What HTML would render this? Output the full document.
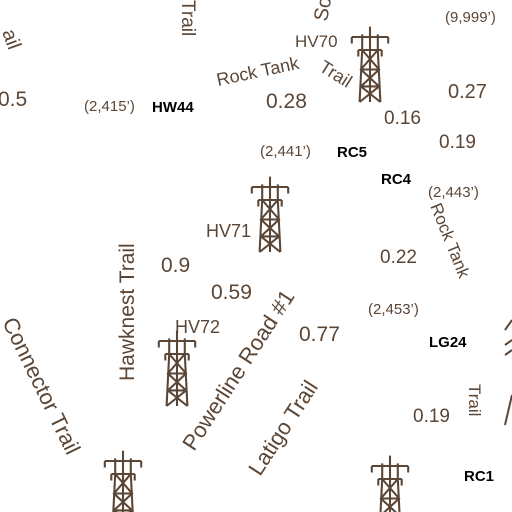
<!DOCTYPE html>
<html><head><meta charset="utf-8"><style>
html,body{margin:0;padding:0;background:#fff}
svg{display:block}
text{font-family:"Liberation Sans",sans-serif;fill:#5b4636}
.b{fill:#000;font-weight:bold}
</style></head><body>
<svg width="512" height="512" viewBox="0 0 512 512">
<defs>
<g id="tower" stroke="#5b4636" stroke-width="1.6" fill="none" transform="scale(1.3)">
<path d="M0,-38 L0,-30 M-14,-30 L14,-30 M-14,-30 L-14,-25 M14,-30 L14,-25 M-6,-32 L-6,-20 L6,-20 L6,-32 M-9,-20 L9,-20 M-9,-20 L-9,-15 M9,-20 L9,-15 M-6,-20 L-8,20 M6,-20 L8,20 M-6,-20 L7,-5 L-7,8 L8,20 M6,-20 L-7,-5 L7,8 L-8,20 M-7,-5 L7,-5 M-7,8 L7,8 M0,-30 L0,20"/>
</g>
</defs>
<use href="#tower" x="370" y="76"/>
<use href="#tower" x="270" y="226"/>
<use href="#tower" x="177" y="380"/>
<use href="#tower" x="123" y="500"/>
<use href="#tower" x="390" y="505"/>

<text x="148" y="0" font-size="20">0.57</text>
<text transform="translate(182,0) rotate(90)" font-size="19">Trail</text>
<text transform="translate(2,32) rotate(70)" font-size="20">ail</text>
<text transform="translate(327,22) rotate(-80)" font-size="20">So</text>
<text x="-2" y="106" font-size="21">0.5</text>
<text x="84" y="111" font-size="15">(2,415’)</text>
<text x="152" y="112" font-size="15" class="b">HW44</text>
<text x="295" y="47" font-size="17">HV70</text>
<text x="445" y="22" font-size="15">(9,999’)</text>
<text transform="translate(218,86) rotate(-12)" font-size="18">Rock Tank</text>
<text transform="translate(318,70) rotate(32)" font-size="18">Trail</text>
<text x="266" y="108" font-size="21">0.28</text>
<text x="448" y="98" font-size="20">0.27</text>
<text x="384" y="124" font-size="19">0.16</text>
<text x="439" y="148" font-size="19">0.19</text>
<text x="260" y="156" font-size="15">(2,441’)</text>
<text x="337" y="157" font-size="15" class="b">RC5</text>
<text x="381" y="184" font-size="15" class="b">RC4</text>
<text x="428" y="197" font-size="15">(2,443’)</text>
<text transform="translate(430,206) rotate(68)" font-size="17">Rock Tank</text>
<text x="206" y="237" font-size="18">HV71</text>
<text x="380" y="263" font-size="19">0.22</text>
<text x="161" y="272" font-size="21">0.9</text>
<text x="211" y="299" font-size="21">0.59</text>
<text transform="translate(134,381) rotate(-90)" font-size="21">Hawknest Trail</text>
<text transform="translate(194,452) rotate(-57)" font-size="22">Powerline Road #1</text>
<text x="368" y="314" font-size="15">(2,453’)</text>
<text x="299" y="341" font-size="21">0.77</text>
<text x="429" y="347" font-size="15" class="b">LG24</text>
<text x="175" y="333" font-size="18">HV72</text>
<text transform="translate(2,322) rotate(64)" font-size="22">Connector Trail</text>
<text transform="translate(260,477) rotate(-57)" font-size="22">Latigo Trail</text>
<text x="413" y="422" font-size="19">0.19</text>
<text transform="translate(469,384) rotate(90)" font-size="17">Trail</text>
<text x="464" y="481" font-size="15" class="b">RC1</text>
<path d="M505,330 L512,320 M505,345 L512,340 M505,355 L512,350 M505,425 L512,395" stroke="#5b4636" stroke-width="2" fill="none"/>
</svg>
</body></html>
